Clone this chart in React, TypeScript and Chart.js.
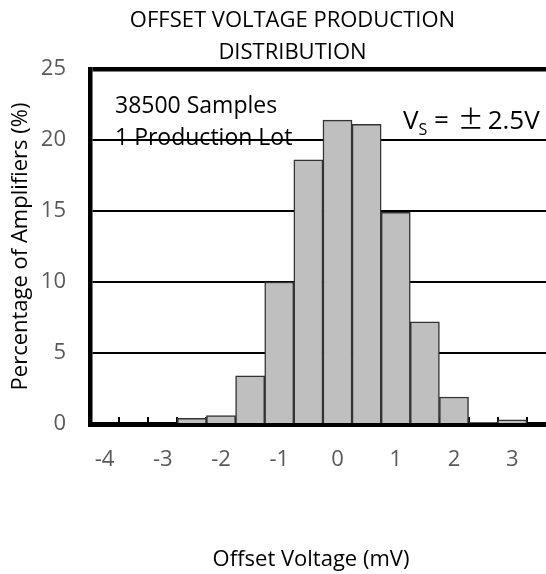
import React, { useEffect, useRef } from 'react';
import { Chart, registerables } from 'chart.js';

Chart.register(...registerables);

// ---- data ----
const BIN_LABELS = ['-4', '-3.5', '-3', '-2.5', '-2', '-1.5', '-1', '-0.5', '0', '0.5', '1', '1.5', '2', '2.5', '3', '3.5', '4'];
const PERCENTAGES: (number | null)[] = [0, 0, 0, 0.4, 0.6, 3.4, 10.0, 18.6, 21.4, 21.1, 14.9, 7.2, 1.9, 0.1, 0.3, 0, null];
const Y_MIN = 0;
const Y_MAX = 25;
const Y_STEP = 5;
const TITLE_LINES = ['OFFSET VOLTAGE PRODUCTION', 'DISTRIBUTION'];
const NOTE_LINES = ['38500 Samples', '1 Production Lot'];
const SUPPLY_PARTS = ['V', 'S', ' = ', '±', '2.5V'];
const X_TITLE = 'Offset Voltage (mV)';
const Y_TITLE = 'Percentage of Amplifiers (%)';

const FONT = '"Open Sans", "Noto Sans", sans-serif';

const textPlugin = {
  id: 'noteText',
  afterDatasetsDraw(chart: any) {
    const { ctx, chartArea, scales } = chart;
    const y = scales.y;
    ctx.save();
    ctx.fillStyle = '#000';
    ctx.textAlign = 'left';
    ctx.textBaseline = 'alphabetic';
    ctx.font = `23px ${FONT}`;
    const left = chartArea.left + 25;
    ctx.fillText(NOTE_LINES[0], left, y.getPixelForValue(21.93));
    ctx.fillText(NOTE_LINES[1], left, y.getPixelForValue(19.66));

    // V_S = ±2.5V
    let xx = chartArea.left + 313;
    const by = y.getPixelForValue(20.77);
    ctx.font = `26px ${FONT}`;
    ctx.fillText(SUPPLY_PARTS[0], xx, by);
    xx += ctx.measureText(SUPPLY_PARTS[0]).width;
    ctx.font = `16px ${FONT}`;
    ctx.fillText(SUPPLY_PARTS[1], xx, by + 6);
    xx += ctx.measureText(SUPPLY_PARTS[1]).width;
    ctx.font = `26px ${FONT}`;
    ctx.fillText(SUPPLY_PARTS[2], xx, by);
    xx += ctx.measureText(SUPPLY_PARTS[2]).width + 2;
    ctx.font = `26px "Noto Sans CJK JP", ${FONT}`;
    ctx.fillText(SUPPLY_PARTS[3], xx, by);
    xx += ctx.measureText(SUPPLY_PARTS[3]).width + 4;
    ctx.font = `26px ${FONT}`;
    ctx.fillText(SUPPLY_PARTS[4], xx, by);

    // x axis title
    ctx.font = `22px ${FONT}`;
    ctx.textAlign = 'center';
    ctx.fillText(X_TITLE, chartArea.left + 221, chartArea.bottom + 142);
    ctx.restore();
  },
};

export default function App() {
  const canvasRef = useRef<HTMLCanvasElement | null>(null);

  useEffect(() => {
    if (!canvasRef.current) return;
    Chart.defaults.font.family = FONT;
    const chart = new Chart(canvasRef.current, {
      type: 'bar',
      data: {
        labels: BIN_LABELS,
        datasets: [
          {
            data: PERCENTAGES,
            backgroundColor: '#BFBFBF',
            borderColor: '#333333',
            borderWidth: 1.5,
            barPercentage: 1,
            categoryPercentage: 1,
          },
        ],
      },
      options: {
        responsive: false,
        animation: false,
        layout: { padding: 0 },
        plugins: {
          legend: { display: false },
          tooltip: { enabled: false },
          title: {
            display: true,
            text: TITLE_LINES,
            color: '#000',
            font: { size: 22, weight: 'normal', lineHeight: 32 / 22 },
            padding: { top: 5, bottom: 0 },
          },
        },
        scales: {
          x: {
            type: 'category',
            offset: true,
            grid: {
              display: true,
              drawOnChartArea: false,
              drawTicks: true,
              tickLength: -7,
              color: '#000',
              lineWidth: 2,
              offset: true,
            },
            border: { display: true, color: '#000', width: 5 },
            ticks: {
              autoSkip: false,
              maxRotation: 0,
              minRotation: 0,
              color: '#595959',
              font: { size: 22 },
              padding: 30,
              callback: (_v: any, i: number) => (i % 2 === 0 ? BIN_LABELS[i] : ''),
            },
            afterFit: (s: any) => {
              s.height = 150;
              s.paddingLeft = 0;
              s.paddingRight = 0;
            },
          },
          y: {
            min: Y_MIN,
            max: Y_MAX,
            ticks: {
              stepSize: Y_STEP,
              color: '#595959',
              font: { size: 22 },
              padding: 24,
            },
            grid: {
              color: '#000',
              lineWidth: (c: any) => (c.tick && c.tick.value === Y_MAX ? 4.5 : 2),
              drawTicks: false,
            },
            border: { display: true, color: '#000', width: 4.5 },
            title: {
              display: true,
              text: Y_TITLE,
              color: '#000',
              font: { size: 22 },
              padding: { top: 8, bottom: 0 },
            },
            afterFit: (s: any) => {
              s.width = 90;
              s.paddingTop = 0;
              s.paddingBottom = 0;
            },
          },
        },
      },
      plugins: [textPlugin],
    });
    return () => chart.destroy();
  }, []);

  return (
    <div style={{ position: 'fixed', left: 0, top: 0, width: 546, height: 574, overflow: 'hidden', background: '#fff' }}>
      <canvas ref={canvasRef} width={585} height={574} style={{ display: 'block', width: 585, height: 574 }} />
    </div>
  );
}
